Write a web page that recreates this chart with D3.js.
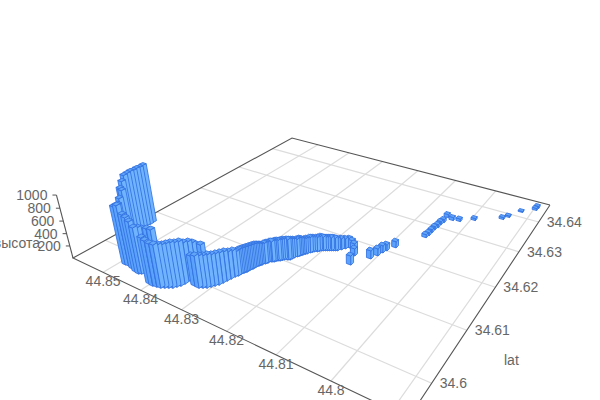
<!DOCTYPE html><html><head><meta charset="utf-8"><script src="https://cdn.jsdelivr.net/npm/d3@7/dist/d3.min.js"></script>
<style>html,body{margin:0;background:#fff}svg{display:block}text{font-family:"Liberation Sans",Arial,sans-serif;font-size:14px;fill:#666}</style></head><body><svg id="c" width="600" height="400"></svg>
<script>
const lonOffsets=[85649,85638,85660,85650,85671,85661,85651,85532,85418,85268,85204,85125,85004,84887,84813,84673,84550,84454,84407,84346,84284,84182,84097,84047,83956,83873,83791,83731,83671,83611,83573,83535,83518,83523,83528,83488,83427,83343,83324,83222,83162,83102,83062,83023,82983,82963,82943,82923,82903,82877,82872,82846,82820,82815,82788,82783,82756,82729,82702,82675,82648,82600,82573,82524,82481,82432,82384,82360,82331,82303,82274,82229,82200,82154,82105,82058,81992,81926,81860,81794,81747,81700,81652,81584,81495,81423,81329,81110,81047,81016,80984,80885,80544,80525,80523,80520,80501,80498,80478,80491,80350,80208,79954,79463,79382,79212,78979,78968,
82875,82859,82833,82818,82802,82786,82770,82743,82689,82624,82587,82548,82503,82408,82372,82317,82289,82251,82177,82081,82025,81959,81893,81827];
const latOffsets=[60771,60703,60657,60591,60545,60480,60416,60302,60192,60134,60038,59952,59859,59768,59774,59754,59728,59718,59739,59769,59798,59818,59831,59640,59631,59644,59657,59685,59713,59741,59785,59829,59890,59967,60045,60091,60120,60132,59929,59925,59953,59982,60026,60071,60116,60178,60240,60303,60367,60406,60464,60504,60544,60603,60644,60703,60745,60786,60828,60870,60912,60935,60977,61000,61050,61073,61096,61167,61211,61255,61299,61351,61395,61448,61471,61524,61555,61587,61618,61649,61703,61756,61811,61811,61759,61670,61447,61727,61848,61954,62032,62173,62661,62737,62841,62947,63027,63135,63217,63397,63352,63382,63539,63809,63922,64194,64382,64467,
60435,60484,60524,60573,60623,60673,60724,60765,60849,60923,60956,60988,61025,61084,61131,61233,61277,61325,61421,61497,61539,61571,61602,61633];
const altitudes=[977,973,971,967,965,961,957,932,892,917,848,811,865,918,947,852,848,815,725,725,710,724,723,714,697,666,665,665,665,680,681,667,654,597,569,540,509,523,471,500,500,500,501,487,487,474,460,430,416,385,386,387,388,373,374,359,344,328,329,329,330,330,330,330,331,331,331,299,284,284,252,252,252,236,236,237,220,220,220,203,187,170,154,137,136,118,149,134,118,119,102,103,53,53,53,53,53,54,54,54,54,45,36,36,27,18,37,37,
385,386,387,380,373,366,352,336,329,330,330,330,330,331,315,284,268,252,244,236,228,220,220,212];
const lonTicks=[44.79,44.8,44.81,44.82,44.83,44.84,44.85];
const latTicks=[34.6,34.61,34.62,34.63,34.64];
const altTicks=[200,400,600,800,1000];
const lons=lonOffsets.map(d=>44+d/1e5), lats=latOffsets.map(d=>34+d/1e5);

const g=-.2917,h=.4607,P={A:[73,258],D:[408.6,418],B:[292,138],V:[360,1350]};
const a=P.D[0]-P.A[0]+g*P.D[0],b=P.B[0]-P.A[0]+h*P.B[0],d=P.D[1]-P.A[1]+g*P.D[1],e=P.B[1]-P.A[1]+h*P.B[1];
const uS=d3.scaleLinear().domain([44.8587,44.7875]).range([0,1]);
const vS=d3.scaleLinear().domain([34.5945,34.6465]).range([0,1]);
const zS=d3.scaleLinear().domain([0,1000]).range([0,-.0545]);
function pu(u,v,z){const W=1+g*u+h*v,s=zS(z),X=a*u+b*v+P.A[0],Y=d*u+e*v+P.A[1],q=W+s;
  return [(X+P.V[0]*s)/q,(Y+P.V[1]*s)/q];}
const svg=d3.select('#c'), line=d3.line();
svg.append('g').attr('stroke','#dcdcdc').attr('stroke-width',1.2).attr('fill','none').selectAll('path').data(
  lonTicks.map(t=>[pu(uS(t),0,0),pu(uS(t),1,0)]).concat(latTicks.map(t=>[pu(0,vS(t),0),pu(1,vS(t),0)]))
).join('path').attr('d',line);
const axisCol='#555';
svg.append('path').attr('d',line([pu(1,1,0),pu(0,1,0),pu(0,0,0),pu(1,0,0),pu(1,1,0)])).attr('fill','none').attr('stroke',axisCol).attr('stroke-width',1.1);
svg.append('path').attr('d',line([pu(0,0,0),pu(0,0,1000)])).attr('fill','none').attr('stroke',axisCol).attr('stroke-width',1.1);
svg.append('g').attr('stroke',axisCol).selectAll('line').data(altTicks).join('line')
 .each(function(t){const p=pu(0,0,t);d3.select(this).attr('x1',p[0]).attr('y1',p[1]).attr('x2',p[0]-4).attr('y2',p[1]);});
const hu=.007,hv=.007;
const bars=lons.map((l,i)=>({u:uS(l),v:vS(lats[i]),z:altitudes[i]}))
 .sort((p,q)=>(1+g*q.u+h*q.v)-(1+g*p.u+h*p.v));
const gb=svg.append('g').attr('stroke','#3371e2').attr('stroke-width',.85).attr('stroke-linejoin','round');
bars.forEach(B=>{
  const c=(su,sv,z)=>pu(B.u+su*hu,B.v+sv*hv,z);
  const bar=gb.append('g');
  bar.append('path').attr('d',line([c(-1,-1,0),c(1,-1,0),c(1,-1,B.z),c(-1,-1,B.z)])+'Z').attr('fill','#5aa2fb');
  bar.append('path').attr('d',line([c(1,-1,0),c(1,1,0),c(1,1,B.z),c(1,-1,B.z)])+'Z').attr('fill','#70b4ff');
  bar.append('path').attr('d',line([c(-1,-1,B.z),c(1,-1,B.z),c(1,1,B.z),c(-1,1,B.z)])+'Z').attr('fill','#62a6f8');
});
lonTicks.slice(1).forEach(t=>{const p=pu(uS(t),0,0);svg.append('text').attr('x',p[0]).attr('y',p[1]+14).attr('text-anchor','middle').text(t);});
latTicks.forEach(t=>{const p=pu(1,vS(t),0);svg.append('text').attr('x',p[0]+8).attr('y',p[1]+5).text(t);});
altTicks.forEach(t=>{const p=pu(0,0,t);svg.append('text').attr('x',p[0]-9).attr('y',p[1]+5).attr('text-anchor','end').text(t);});
svg.append('text').attr('x',504).attr('y',365).text('lat');
svg.append('text').attr('x',40).attr('y',248).attr('text-anchor','end').text('высота');
</script></body></html>
